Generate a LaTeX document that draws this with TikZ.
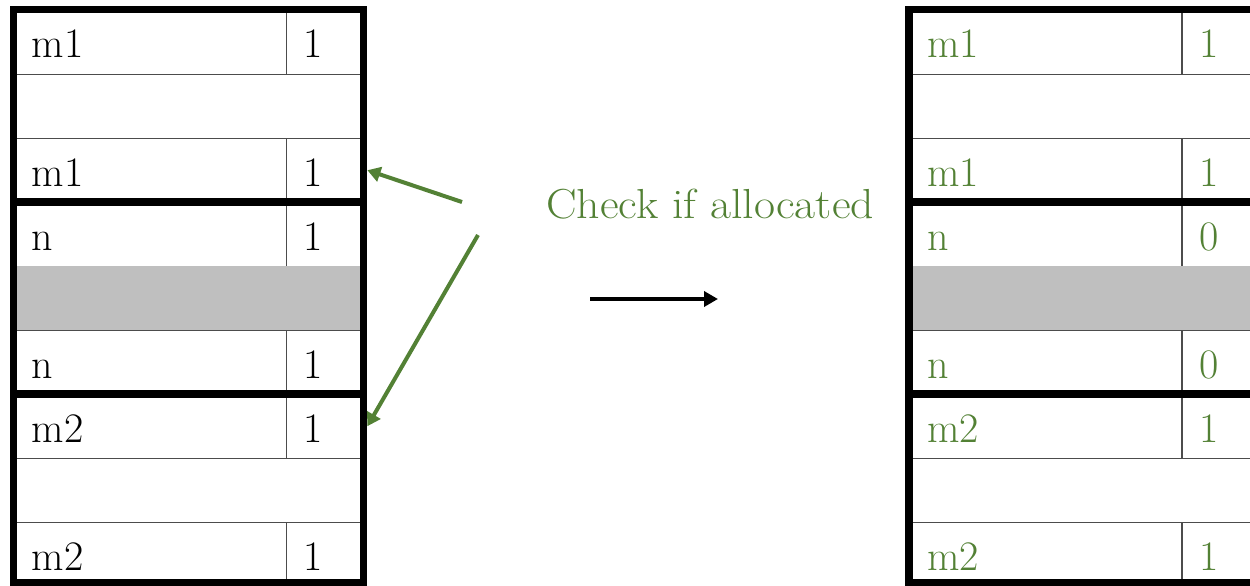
\documentclass[tikz,border=0pt]{standalone}
\usetikzlibrary{arrows.meta}
\definecolor{memgreen}{HTML}{538135}
\definecolor{freegray}{HTML}{BFBFBF}
\begin{document}
\begin{tikzpicture}[x=1pt,y=-1pt,
  rowbox/.style={rectangle, inner sep=0pt, minimum width=350pt, minimum height=64pt, anchor=north west},
  thin rule/.style={draw=black!70, line width=1.4pt},
  thick rule/.style={draw=black, line width=7.5pt, line join=miter},
  celltext/.style={anchor=base west, inner sep=0pt, font=\fontsize{42}{50}\selectfont},
  caption/.style={anchor=base west, inner sep=0pt, font=\fontsize{42}{50}\selectfont, text=memgreen},
  pointer/.style={draw=memgreen, line width=4pt, -{Triangle[length=13pt,width=15pt]}},
  stage arrow/.style={draw=black, line width=4pt, -{Triangle[length=14pt,width=15pt]}}]
\useasboundingbox (0,0) rectangle (1250,586);
\clip (0,0) rectangle (1250,586);

% Two memory tables: left before the check, right after (values in green)
\foreach \T/\X/\nval/\tcol in {L/13.5/1/black, R/909/0/memgreen}{
  % rows: index / kind / tag / value
  \foreach \i/\kind/\tag/\val in {0/t/m1/1, 1/e//, 2/t/m1/1, 3/t/n/\nval, 4/g//, 5/t/n/\nval, 6/t/m2/1, 7/e//, 8/t/m2/1}{
    \pgfmathsetmacro{\top}{10+64*\i}
    \node[rowbox] (\T\i) at (\X,\top) {};
    \if g\kind
      \fill[freegray] (\T\i.north west) rectangle (\T\i.south east);
    \fi
    \if t\kind
      \draw[thin rule] ([xshift=273pt]\T\i.north west) -- ([xshift=273pt]\T\i.south west);
      \node[celltext, text=\tcol] (\T\i tag) at ([xshift=18pt,yshift=-48pt]\T\i.north west) {\tag};
      \node[celltext, text=\tcol] (\T\i val) at ([xshift=290pt,yshift=-48pt]\T\i.north west) {\val};
    \fi
    \draw[thin rule] (\T\i.south west) -- (\T\i.south east);
  }
  % heavy frame and block separators
  \draw[thick rule] (\X,9.5) rectangle (\X+350,583);
  \draw[thick rule] (\X,202) -- (\X+350,202);
  \draw[thick rule] (\X,394) -- (\X+350,394);
}

% check label and pointers
\node[caption] (check) at (546,218) {\scalebox{1.09}[1]{Check if allocated}};
\coordinate (p1) at (462,202);
\coordinate (p2) at (478,235);
\draw[pointer] (p1) -- ([xshift=3.5pt]L2.east);
\draw[pointer] (p2) -- ([xshift=3.5pt]L6.east);

% transition arrow
\coordinate (s1) at (590,299);
\coordinate (s2) at (718,299);
\draw[stage arrow] (s1) -- (s2);
\end{tikzpicture}
\end{document}
